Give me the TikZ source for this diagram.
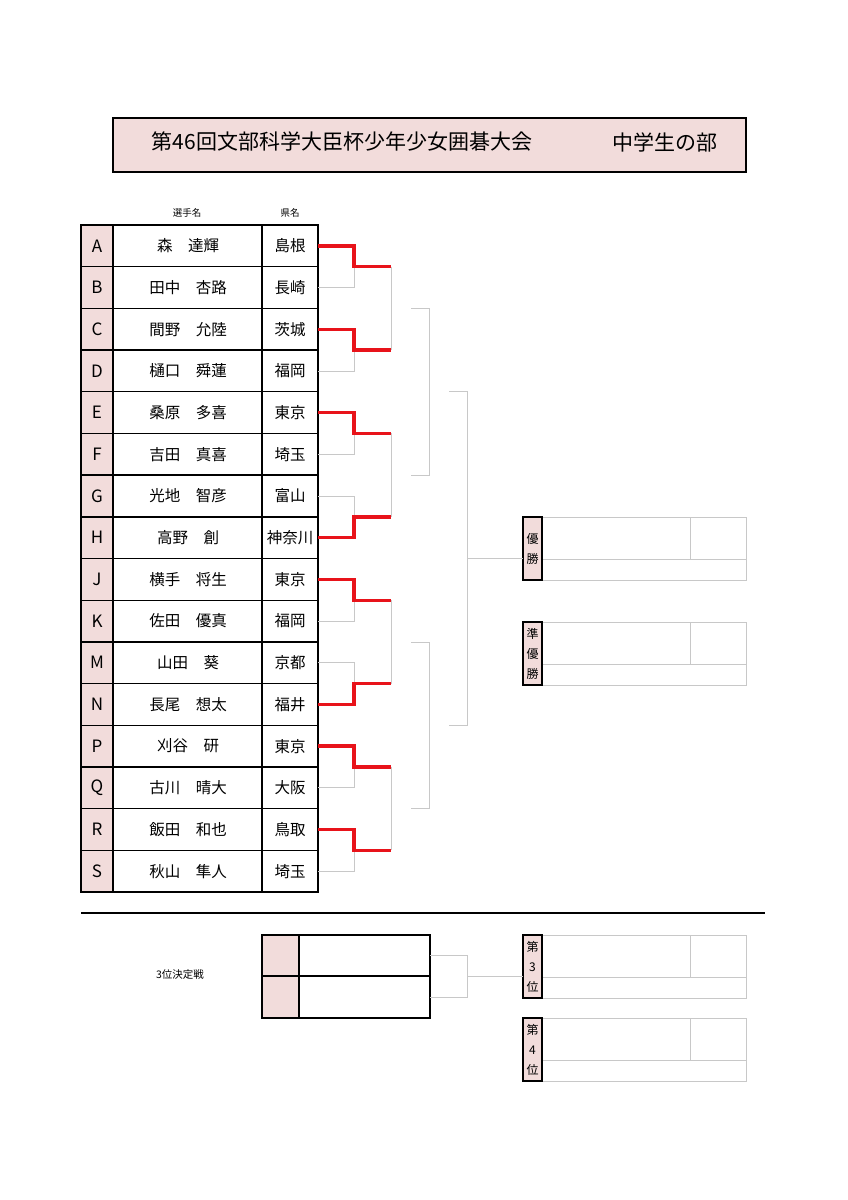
\documentclass[tikz,border=0pt]{standalone}
\usepackage{fontspec}
\setmainfont{Noto Sans CJK JP}
\usetikzlibrary{calc}
\definecolor{pinkfill}{HTML}{F2DCDB}
\definecolor{winred}{HTML}{E8131A}
\definecolor{linegray}{HTML}{C8C8C8}
\tikzset{
  frame/.style={draw=black, line width=1.4pt},
  tline/.style={draw=linegray, line width=0.7pt},
  win/.style={draw=winred, line width=3.4pt},
  cell/.style={font=\fontsize{15.5}{15.5}\selectfont},
  lab/.style={frame, fill=pinkfill, line width=1.2pt},
}
\begin{document}
\begin{tikzpicture}[x=1pt,y=-1pt]
  \useasboundingbox (0,0) rectangle (848,1200);

  % title
  \draw[frame, fill=pinkfill, line width=2.2pt] (113,118) rectangle (746,172);
  \node[font=\fontsize{21}{21}\selectfont] (title) at (342,142) {第46回文部科学大臣杯少年少女囲碁大会};
  \node[font=\fontsize{21}{21}\selectfont] (division) at (665,142) {中学生の部};

  \node[font=\fontsize{9.5}{9.5}\selectfont] (hname) at (187,213) {選手名};
  \node[font=\fontsize{9.5}{9.5}\selectfont] (hpref) at (290,213) {県名};

  % players
  \def\rowh{41.69}
  \foreach \l/\n/\p [count=\i from 0] in {A/森\quad 達輝/島根, B/田中\quad 杏路/長崎, C/間野\quad 允陸/茨城, D/樋口\quad 舜蓮/福岡,
      E/桑原\quad 多喜/東京, F/吉田\quad 真喜/埼玉, G/光地\quad 智彦/富山, H/高野\quad 創/神奈川,
      J/横手\quad 将生/東京, K/佐田\quad 優真/福岡, M/山田\quad 葵/京都, N/長尾\quad 想太/福井,
      P/刈谷\quad 研/東京, Q/古川\quad 晴大/大阪, R/飯田\quad 和也/鳥取, S/秋山\quad 隼人/埼玉} {
    \pgfmathsetmacro\ya{225+\i*\rowh}
    \pgfmathsetmacro\yb{225+(\i+1)*\rowh}
    \pgfmathsetmacro\yc{225+(\i+0.5)*\rowh}
    \fill[pinkfill] (81,\ya) rectangle (113,\yb);
    \draw[frame] (81,\ya) rectangle (113,\yb) (113,\ya) rectangle (262,\yb) (262,\ya) rectangle (318,\yb);
    \node[cell, font=\fontsize{17}{17}\selectfont] (let\l) at (97,\yc) {\l};
    \node[cell] (name\l) at (188,\yc) {\n};
    \node[cell, inner sep=0pt] (pref\l) at (290,\yc) {\p};
    \coordinate (out\l) at (318,\yc);
  }

  % first round
  \foreach \t/\b/\w in {A/B/1, C/D/1, E/F/1, G/H/0, J/K/1, M/N/0, P/Q/1, R/S/1} {
    \coordinate (m\t) at ($(out\t)!0.5!(out\b)$);
    \ifnum\w=1
      \draw[tline] (out\b) -| ([xshift=36pt]m\t);
      \draw[win] (out\t) -| ([xshift=36pt]m\t) -- ([xshift=73pt]m\t);
    \else
      \draw[tline] (out\t) -| ([xshift=36pt]m\t);
      \draw[win] (out\b) -| ([xshift=36pt]m\t) -- ([xshift=73pt]m\t);
    \fi
  }

  % second round
  \foreach \a/\b in {A/C, E/G, J/M, P/R}
    \draw[tline] ([xshift=73pt]m\a) -- ([xshift=73pt]m\b);
  \foreach \a in {A, J} {
    \draw[tline] ([xshift=93pt]m\a) ++(0,41.69) -- ++(18,0) coordinate (q\a)
      -- ++(0,{2*83.38}) coordinate (r\a) -- ++(-18,0);
  }
  \coordinate (semiT) at ($(qA)!0.5!(rA)$);
  \coordinate (semiB) at ($(qJ)!0.5!(rJ)$);
  \draw[tline] ([xshift=20pt]semiT) -- ++(18,0) coordinate (fT)
    -- ([xshift=38pt]semiB) coordinate (fB) -- ++(-18,0);
  \coordinate (fmid) at ($(fT)!0.5!(fB)$);

  % result boxes
  \foreach \y/\txt/\nm in {517/優\\勝/first, 622/準\\優\\勝/second, 935/第\\3\\位/third, 1018/第\\4\\位/fourth} {
    \draw[tline] (542,\y) rectangle (746,\y+63) (542,\y+42) -- (746,\y+42) (690,\y) -- (690,\y+42);
    \draw[lab] (523,\y) rectangle (542,\y+63);
    \node[font=\fontsize{12}{20}\selectfont, align=center] (\nm) at (532.5,\y+31.5) {\txt};
  }
  \draw[tline] (fmid) -- ++(56,0);

  % third place
  \draw[black, line width=2.4pt] (81,913) -- (765,913);
  \node[font=\fontsize{10.5}{10.5}\selectfont] (thirdlab) at (180,975) {3位決定戦};
  \fill[pinkfill] (262,935) rectangle (299,1018);
  \draw[frame] (262,935) rectangle (299,976) (262,976) rectangle (299,1018)
    (299,935) rectangle (430,976) (299,976) rectangle (430,1018);
  \coordinate (tpA) at (430,955);
  \coordinate (tpB) at (430,997);
  \draw[tline] (tpA) -- ++(37,0) coordinate (tpC) |- (tpB);
  \draw[tline] ($(tpC)!0.5!(tpC |- tpB)$) -- (523,976);
\end{tikzpicture}
\end{document}
